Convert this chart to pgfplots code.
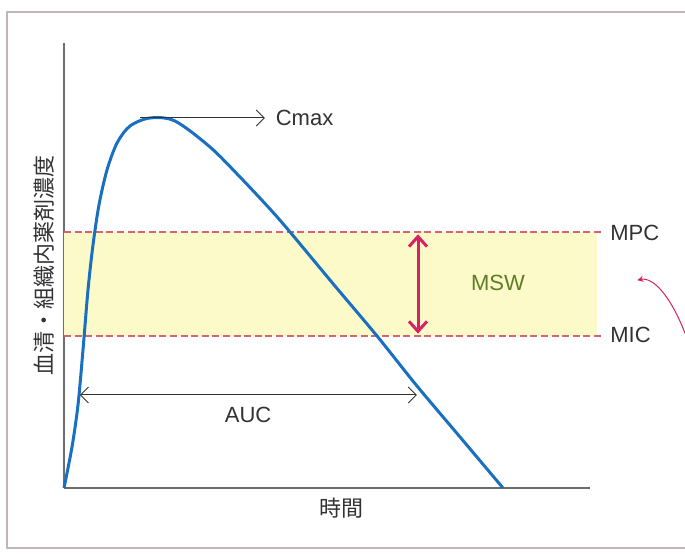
\documentclass[border=0pt]{standalone}
\usepackage{pgfplots}
\pgfplotsset{compat=1.18}
\usepackage{fontspec}
\setmainfont{Liberation Sans}
\newfontfamily\cjk{Noto Sans CJK JP}
\usetikzlibrary{arrows.meta}
\definecolor{curveblue}{RGB}{25,112,192}
\definecolor{bandyellow}{RGB}{252,250,200}
\definecolor{dashred}{RGB}{215,100,110}
\definecolor{mswred}{RGB}{212,35,100}
\definecolor{mswgreen}{RGB}{95,125,40}
\definecolor{txt}{RGB}{50,50,50}
\definecolor{frame}{RGB}{195,180,185}
\begin{document}
\begin{tikzpicture}
\clip (0,0) rectangle (342.5pt,276.5pt);
\draw[frame, line width=0.6pt] (3.5pt,2.5pt) rectangle (350pt,270.5pt);
\begin{axis}[
  at={(32pt,32.5pt)}, anchor=south west,
  scale only axis, width=263pt, height=222.5pt,
  xmin=0, xmax=10, ymin=0, ymax=10,
  axis lines=left, axis line style={-, draw=gray!85!black, line width=0.7pt},
  ticks=none, clip=false,
  font=\fontsize{11}{13}\selectfont,
]
% therapeutic window band
\addplot[fill=bandyellow, draw=none] coordinates {(0,3.416) (10.13,3.416) (10.13,5.753) (0,5.753)} -- cycle;
% MPC / MIC dashed lines
\addplot[dashred, line width=0.6pt, dash pattern=on 3.5pt off 1.8pt] coordinates {(0,5.753) (10.23,5.753)};
\addplot[dashred, line width=0.6pt, dash pattern=on 3.5pt off 1.8pt] coordinates {(0,3.416) (10.23,3.416)};
% concentration curve
\addplot[curveblue, line width=1.5pt, smooth, tension=0.5] coordinates {
 (0,0) (0.152,0.921) (0.266,1.865) (0.361,3.101) (0.456,4.449) (0.551,5.461)
 (0.665,6.360) (0.817,7.146) (1.008,7.753) (1.255,8.135) (1.635,8.315)
 (2.110,8.247) (2.776,7.663) (3.346,6.989) (3.916,6.270) (4.297,5.753)
 (5.152,4.539) (5.951,3.416) (6.711,2.292) (7.529,1.146) (8.346,0)};
% Cmax arrow
\addplot[txt, line width=0.5pt, -{Straight Barb[length=4pt,width=8pt]}] coordinates {(1.445,8.315) (3.82,8.315)};
\node[txt, anchor=west, inner sep=0pt] at (axis cs:4.02,8.315) {Cmax};
% AUC arrow
\addplot[txt, line width=0.5pt, {Straight Barb[length=4pt,width=8pt]}-{Straight Barb[length=4pt,width=8pt]}] coordinates {(0.30,2.09) (6.71,2.09)};
\node[txt] at (axis cs:3.50,1.64) {AUC};
% MSW double arrow
\addplot[mswred, line width=1.5pt, {Straight Barb[length=5pt,width=9pt]}-{Straight Barb[length=5pt,width=9pt]}] coordinates {(6.73,5.70) (6.73,3.47)};
\node[mswgreen] at (axis cs:8.25,4.61) {MSW};
% labels
\node[txt, anchor=west, inner sep=0pt] at (axis cs:10.38,5.73) {MPC};
\node[txt, anchor=west, inner sep=0pt] at (axis cs:10.38,3.44) {MIC};
% pink curved arrow (cut off at right edge)
\draw[mswred, line width=0.5pt, -{Stealth[length=3pt,width=3pt]}] (axis cs:11.95,3.0) .. controls (axis cs:11.6,4.3) and (axis cs:11.2,4.75) .. (axis cs:10.9,4.67);
% axis labels
\node[txt] at (axis cs:5.285,-0.45) {\cjk 時間};
\node[txt, rotate=90] at (axis cs:-0.38,5.01) {\cjk 血清・組織内薬剤濃度};
\end{axis}
\end{tikzpicture}
\end{document}
